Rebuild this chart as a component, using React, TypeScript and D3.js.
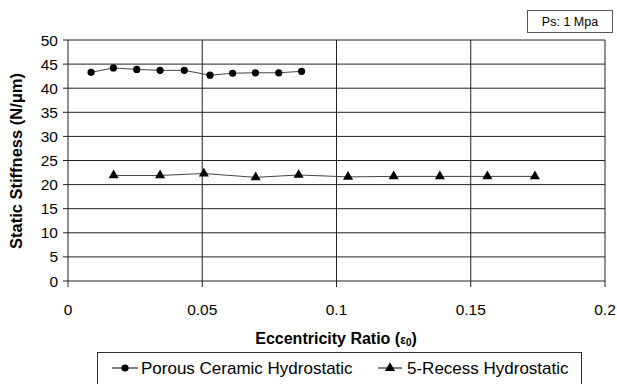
import React from 'react';
import * as d3 from 'd3';

// values
const porousX = [0.0086, 0.0169, 0.0256, 0.0343, 0.0433, 0.0529, 0.0613, 0.0698, 0.0785, 0.087];
const porousY = [43.3, 44.2, 43.9, 43.7, 43.7, 42.7, 43.1, 43.2, 43.2, 43.5];
const recessX = [0.017, 0.0343, 0.0506, 0.0699, 0.0859, 0.1043, 0.1213, 0.1385, 0.1562, 0.1739];
const recessY = [21.9, 21.9, 22.3, 21.5, 22.0, 21.6, 21.7, 21.7, 21.7, 21.7];
const xTicks = [0, 0.05, 0.1, 0.15, 0.2];
const yTicks = [0, 5, 10, 15, 20, 25, 30, 35, 40, 45, 50];

const font = 'Arial, "Liberation Sans", sans-serif';

export default function App() {
  const width = 617;
  const height = 384;
  const x = d3.scaleLinear().domain([0, 0.2]).range([68, 605]);
  const y = d3.scaleLinear().domain([0, 50]).range([281, 40]);

  const line = d3.line<[number, number]>()
    .x(d => x(d[0]))
    .y(d => y(d[1]));

  const porous = porousX.map((v, i) => [v, porousY[i]] as [number, number]);
  const recess = recessX.map((v, i) => [v, recessY[i]] as [number, number]);
  const tri = d3.symbol().type(d3.symbolTriangle).size(44)() || '';

  return (
    <svg width={width} height={height}
      style={{ position: 'absolute', left: 0, top: 0, background: '#fff' }}
      fontFamily={font}>
      {/* grid */}
      {yTicks.map(t => (
        <g key={'y' + t}>
          <line x1={63} x2={605} y1={y(t)} y2={y(t)} stroke="#222" strokeWidth={1} />
          <text x={58} y={y(t) + 5.5} textAnchor="end" fontSize={15.5}>{t}</text>
        </g>
      ))}
      {xTicks.map(t => (
        <g key={'x' + t}>
          <line x1={x(t)} x2={x(t)} y1={40} y2={287} stroke="#222" strokeWidth={1} />
          <text x={x(t)} y={315} textAnchor="middle" fontSize={15.5}>{t}</text>
        </g>
      ))}

      {/* series */}
      <path d={line(porous) || ''} fill="none" stroke="#444" strokeWidth={1} />
      {porous.map((d, i) => (
        <circle key={'p' + i} cx={x(d[0])} cy={y(d[1])} r={3.6} fill="#000" />
      ))}
      <path d={line(recess) || ''} fill="none" stroke="#444" strokeWidth={1} />
      {recess.map((d, i) => (
        <path key={'r' + i} d={tri} transform={`translate(${x(d[0])},${y(d[1])})`} fill="#000" />
      ))}

      {/* axis titles */}
      <text transform="translate(22,161) rotate(-90)" textAnchor="middle"
        fontSize={16.5} fontWeight="bold">Static Stiffness (N/μm)</text>
      <text x={336} y={344} textAnchor="middle" fontSize={16} fontWeight="bold">
        Eccentricity Ratio (<tspan fontSize={12}>ε</tspan><tspan fontSize={10} dy={2}>0</tspan><tspan dy={-2}>)</tspan>
      </text>

      {/* Ps box */}
      <rect x={527.5} y={10.5} width={85} height={22} fill="#fff" stroke="#555" />
      <text x={570} y={26} textAnchor="middle" fontSize={12.5}>Ps: 1 Mpa</text>

      {/* legend */}
      <rect x={97.5} y={352.5} width={484} height={40} fill="#fff" stroke="#333" />
      <line x1={112} x2={138} y1={368} y2={368} stroke="#000" />
      <circle cx={125} cy={368} r={3.6} fill="#000" />
      <text x={141} y={374} fontSize={17}>Porous Ceramic Hydrostatic</text>
      <line x1={378} x2={402} y1={368} y2={368} stroke="#000" />
      <path d={tri} transform="translate(390,368)" fill="#000" />
      <text x={407} y={374} fontSize={17}>5-Recess Hydrostatic</text>
    </svg>
  );
}
